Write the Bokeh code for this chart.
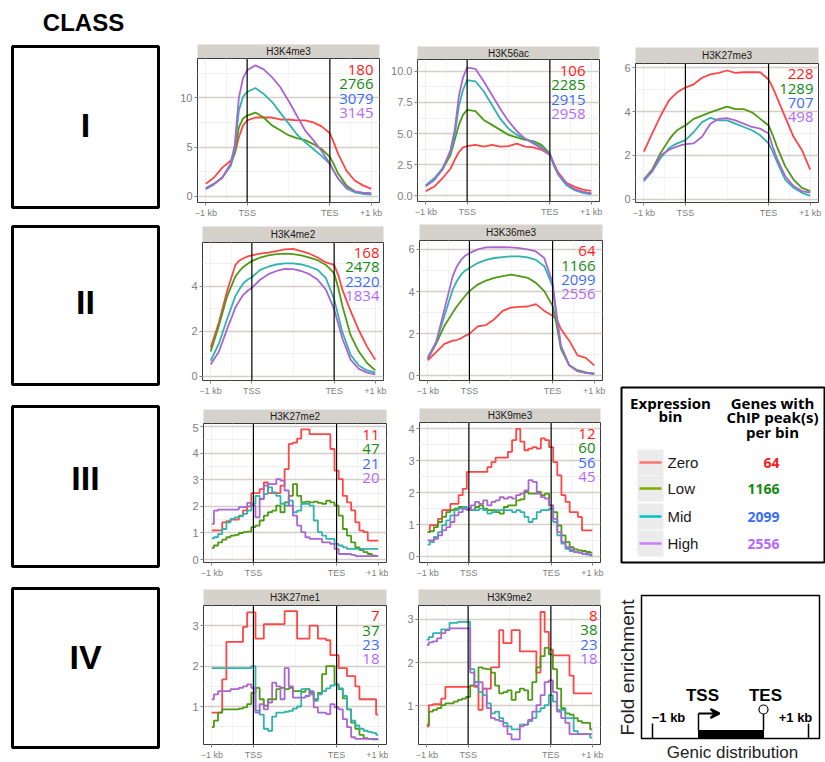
from bokeh.plotting import figure
from bokeh.models import Range1d, FixedTicker, Span, Label, Arrow, VeeHead
from bokeh.layouts import row, column
from bokeh.embed import file_html
from bokeh.resources import INLINE
from bokeh.core.properties import value
import math

# ---------------- data ----------------
BINS = ["Zero", "Low", "Mid", "High"]
LINE_COLORS = ["#ff4646", "#4e9a14", "#30b3ae", "#aa66d0"]
NUM_COLORS = ["#ff1a1a", "#148a14", "#3a6cff", "#b568ff"]
LEGEND_COLORS = ["#f8766d", "#7cae00", "#00bfc4", "#c77cff"]
X_TICKS = [0, 1, 3, 4]
X_TICK_LABELS = ["\u22121 kb", "TSS", "TES", "+1 kb"]
CLASSES = ["I", "II", "III", "IV"]

X_SMOOTH = [0, 0.2, 0.4, 0.6, 0.7, 0.8, 0.9, 1.0, 1.2, 1.4, 1.6, 1.8, 2.0, 2.2, 2.4, 2.6, 2.8, 3.0, 3.1, 3.2, 3.4, 3.6, 3.8, 4.0]
X_STEP = [0.0, 0.1, 0.2, 0.3, 0.4, 0.5, 0.6, 0.7, 0.8, 0.9, 1.0, 1.1, 1.2, 1.3, 1.4, 1.5, 1.6, 1.7, 1.8, 1.9, 2.0,
          2.1, 2.2, 2.3, 2.4, 2.5, 2.6, 2.7, 2.8, 2.9, 3.0, 3.1, 3.2, 3.3, 3.4, 3.5, 3.6, 3.7, 3.8, 3.9, 4.0]

# Class I
H3K4ME3_ZERO = [1.25, 1.9, 2.9, 3.6, 4.3, 6.0, 7.2, 7.7, 8.0, 8.0, 8.0, 7.8, 7.8, 7.7, 7.7, 7.5, 7.1, 6.4, 5.4, 4.3, 2.6, 1.6, 1.1, 0.75]
H3K4ME3_LOW = [0.8, 1.25, 1.9, 3.1, 4.4, 7.0, 7.9, 8.2, 8.5, 8.0, 7.2, 6.7, 6.2, 5.9, 5.7, 5.3, 4.8, 4.0, 3.2, 2.3, 1.1, 0.5, 0.3, 0.24]
H3K4ME3_MID = [0.7, 1.2, 1.9, 3.1, 4.8, 8.7, 10.1, 10.6, 11.0, 10.4, 9.6, 8.5, 7.4, 6.3, 5.5, 4.8, 4.1, 3.3, 2.5, 1.8, 0.8, 0.4, 0.24, 0.17]
H3K4ME3_HIGH = [0.8, 1.25, 1.9, 3.3, 5.2, 10.0, 12.0, 12.8, 13.3, 12.9, 12.1, 11.1, 9.7, 8.2, 6.7, 5.7, 4.6, 3.3, 2.5, 1.8, 0.9, 0.5, 0.37, 0.3]
H3K4ME3_N = [180, 2766, 3079, 3145]

H3K56AC_ZERO = [0.38, 0.73, 1.4, 2.2, 2.9, 3.5, 3.9, 4.0, 4.1, 3.95, 4.1, 3.95, 4.0, 4.2, 3.95, 3.9, 3.7, 3.3, 2.5, 1.9, 1.05, 0.73, 0.5, 0.4]
H3K56AC_LOW = [0.8, 1.3, 2.1, 3.3, 4.5, 5.7, 6.5, 6.9, 6.8, 6.1, 5.7, 5.3, 4.9, 4.7, 4.5, 4.4, 4.1, 3.4, 2.55, 1.8, 0.94, 0.5, 0.3, 0.2]
H3K56AC_MID = [0.86, 1.4, 2.2, 3.5, 4.9, 7.2, 8.5, 9.3, 9.2, 8.4, 7.3, 6.2, 5.4, 4.9, 4.6, 4.3, 3.9, 3.3, 2.4, 1.7, 0.86, 0.46, 0.24, 0.13]
H3K56AC_HIGH = [0.8, 1.26, 2.1, 3.7, 5.3, 8.0, 9.5, 10.3, 10.2, 9.2, 8.1, 7.0, 6.0, 5.2, 4.6, 4.2, 3.8, 3.3, 2.5, 1.8, 1.0, 0.54, 0.32, 0.2]
H3K56AC_N = [106, 2285, 2915, 2958]

H3K27ME3_ZERO = [2.17, 3.0, 3.8, 4.5, 4.7, 4.87, 5.0, 5.1, 5.25, 5.55, 5.7, 5.77, 5.88, 5.77, 5.8, 5.8, 5.8, 5.47, 5.1, 4.65, 3.75, 2.85, 2.25, 1.35]
H3K27ME3_LOW = [0.9, 1.35, 2.1, 2.7, 2.95, 3.15, 3.27, 3.37, 3.67, 3.82, 3.97, 4.1, 4.23, 4.12, 4.12, 3.97, 3.67, 3.37, 2.92, 2.4, 1.5, 0.9, 0.52, 0.37]
H3K27ME3_MID = [0.82, 1.27, 1.87, 2.32, 2.45, 2.55, 2.62, 2.7, 3.07, 3.52, 3.72, 3.6, 3.6, 3.45, 3.3, 3.15, 2.92, 2.55, 2.17, 1.72, 0.9, 0.52, 0.3, 0.15]
H3K27ME3_HIGH = [0.9, 1.27, 2.0, 2.25, 2.33, 2.4, 2.47, 2.52, 2.55, 2.85, 3.45, 3.67, 3.7, 3.6, 3.45, 3.3, 3.22, 3.0, 2.4, 1.87, 1.05, 0.6, 0.37, 0.3]
H3K27ME3_N = [228, 1289, 707, 498]

# Class II
H3K4ME2_ZERO = [1.27, 2.4, 3.8, 4.95, 5.15, 5.25, 5.33, 5.38, 5.45, 5.5, 5.57, 5.64, 5.67, 5.57, 5.45, 5.28, 5.06, 4.95, 4.5, 3.85, 2.9, 2.04, 1.31, 0.73]
H3K4ME2_LOW = [1.09, 2.25, 3.56, 4.44, 4.68, 4.87, 5.0, 5.12, 5.28, 5.38, 5.43, 5.45, 5.43, 5.38, 5.28, 5.16, 4.95, 4.58, 3.93, 3.13, 1.82, 1.09, 0.58, 0.25]
H3K4ME2_MID = [0.68, 1.45, 2.55, 3.56, 3.88, 4.15, 4.3, 4.4, 4.73, 4.87, 4.97, 5.02, 5.02, 4.97, 4.87, 4.73, 4.36, 3.42, 2.69, 1.96, 0.95, 0.47, 0.25, 0.15]
H3K4ME2_HIGH = [0.51, 1.09, 2.1, 3.05, 3.36, 3.64, 3.8, 3.93, 4.29, 4.54, 4.68, 4.77, 4.76, 4.68, 4.54, 4.29, 3.85, 2.98, 2.33, 1.67, 0.73, 0.32, 0.15, 0.07]
H3K4ME2_N = [168, 2478, 2320, 1834]

H3K36ME3_ZERO = [0.74, 1.13, 1.52, 1.67, 1.7, 1.78, 1.9, 1.99, 2.35, 2.41, 2.69, 3.08, 3.24, 3.27, 3.29, 3.4, 3.08, 2.85, 2.69, 2.22, 1.67, 0.97, 0.85, 0.5]
H3K36ME3_LOW = [0.81, 1.52, 2.38, 3.0, 3.3, 3.55, 3.8, 4.02, 4.33, 4.52, 4.65, 4.73, 4.8, 4.73, 4.65, 4.41, 4.02, 3.32, 2.38, 1.28, 0.5, 0.27, 0.16, 0.11]
H3K36ME3_MID = [0.89, 1.6, 2.85, 4.1, 4.5, 4.8, 5.0, 5.12, 5.35, 5.5, 5.59, 5.63, 5.67, 5.67, 5.62, 5.5, 5.2, 4.26, 2.69, 1.36, 0.5, 0.22, 0.14, 0.09]
H3K36ME3_HIGH = [0.81, 1.6, 3.16, 4.73, 5.2, 5.5, 5.7, 5.82, 6.0, 6.09, 6.1, 6.1, 6.09, 6.06, 6.0, 5.9, 5.59, 4.41, 2.85, 1.44, 0.5, 0.22, 0.14, 0.1]
H3K36ME3_N = [64, 1166, 2099, 2556]

# Class III
H3K27ME2_ZERO = [1.1, 1.1, 1.1, 1.4, 1.45, 1.5, 1.5, 1.65, 1.85, 2.0, 2.5, 2.5, 2.65, 2.9, 2.5, 2.5, 2.5, 2.78, 3.4, 4.35, 4.4,
                 4.55, 4.9, 4.9, 4.72, 4.72, 4.72, 4.72, 4.72, 4.16, 3.35, 3.03, 2.4, 2.15, 1.85, 1.4, 1.09, 1.03, 0.71, 0.71, 0.71]
H3K27ME2_LOW = [0.44, 0.53, 0.65, 0.75, 0.84, 0.9, 0.93, 1.0, 1.03, 1.05, 1.22, 1.28, 1.47, 1.65, 1.78, 1.84, 2.03, 1.78, 2.15, 2.4, 2.84,
                2.4, 2.15, 2.18, 2.15, 2.18, 2.13, 2.1, 2.22, 2.15, 2.03, 1.65, 1.15, 0.9, 0.65, 0.46, 0.36, 0.28, 0.21, 0.15, 0.13]
H3K27ME2_MID = [0.8, 0.84, 0.96, 1.15, 1.4, 1.53, 1.59, 1.63, 1.72, 1.84, 2.1, 2.4, 2.28, 2.47, 2.72, 2.53, 2.4, 2.1, 2.03, 2.22, 1.78,
                1.84, 2.1, 2.1, 2.03, 1.47, 1.03, 0.9, 0.78, 0.78, 0.59, 0.53, 0.46, 0.4, 0.4, 0.4, 0.4, 0.4, 0.4, 0.4, 0.4]
H3K27ME2_HIGH = [1.34, 1.84, 1.88, 1.88, 1.88, 1.88, 1.88, 1.97, 1.97, 2.13, 2.03, 1.59, 2.28, 2.78, 2.84, 2.84, 3.03, 2.97, 2.6, 2.03, 1.65,
                 1.28, 1.03, 0.84, 0.78, 0.78, 0.78, 0.65, 0.65, 0.59, 0.4, 0.21, 0.21, 0.21, 0.18, 0.13, 0.13, 0.13, 0.13, 0.13, 0.13]
H3K27ME2_N = [11, 47, 21, 20]

H3K9ME3_ZERO = [0.76, 0.98, 0.98, 1.18, 1.45, 1.45, 1.65, 1.65, 1.92, 2.12, 2.65, 2.65, 2.65, 2.65, 2.65, 2.8, 2.96, 3.1, 3.1, 3.1, 3.28,
                3.65, 4.0, 3.6, 3.33, 3.38, 3.43, 3.38, 3.7, 3.65, 3.43, 2.96, 2.54, 1.92, 1.71, 1.39, 1.39, 1.24, 0.82, 0.82, 0.82]
H3K9ME3_LOW = [0.76, 0.79, 0.92, 1.08, 1.24, 1.39, 1.45, 1.5, 1.55, 1.5, 1.5, 1.45, 1.55, 1.6, 1.5, 1.45, 1.45, 1.39, 1.34, 1.55, 1.6,
               1.6, 1.76, 1.79, 2.02, 1.97, 1.97, 2.02, 1.92, 1.97, 1.6, 1.39, 0.97, 0.66, 0.45, 0.29, 0.22, 0.19, 0.17, 0.14, 0.12]
H3K9ME3_MID = [0.37, 0.45, 0.61, 0.76, 0.98, 1.13, 1.29, 1.45, 1.5, 1.55, 1.45, 1.45, 1.45, 1.5, 1.45, 1.34, 1.39, 1.45, 1.45, 1.45, 1.45,
               1.39, 1.45, 1.39, 1.24, 1.08, 1.18, 1.39, 1.45, 1.45, 1.5, 1.08, 0.66, 0.4, 0.24, 0.17, 0.14, 0.12, 0.08, 0.06, 0.03]
H3K9ME3_HIGH = [0.5, 0.5, 0.55, 0.66, 0.82, 0.92, 1.08, 1.29, 1.39, 1.5, 1.45, 1.6, 1.71, 1.65, 1.76, 1.6, 1.71, 1.76, 1.86, 1.81, 1.86,
                1.81, 1.92, 1.97, 2.07, 2.39, 2.34, 1.97, 1.86, 1.81, 1.6, 1.18, 0.76, 0.45, 0.29, 0.22, 0.14, 0.12, 0.09, 0.07, 0.05]
H3K9ME3_N = [12, 60, 56, 45]

# Class IV
H3K27ME1_ZERO = [0.85, 0.85, 0.85, 1.67, 2.6, 2.6, 2.6, 2.6, 2.97, 3.33, 3.33, 2.68, 2.68, 3.04, 3.04, 3.04, 3.04, 3.04, 3.36, 3.36, 3.36,
                 2.68, 2.68, 2.68, 3.0, 3.0, 2.68, 2.68, 2.64, 2.27, 2.27, 1.95, 1.95, 1.75, 1.75, 1.5, 1.18, 1.18, 1.18, 1.18, 0.8]
H3K27ME1_LOW = [0.49, 0.65, 0.85, 0.93, 0.93, 0.93, 0.93, 0.95, 0.98, 1.06, 1.34, 1.46, 1.18, 1.02, 1.18, 1.18, 1.43, 1.46, 1.43, 1.46, 1.38,
                1.38, 1.36, 1.43, 1.34, 1.18, 1.34, 1.8, 2.0, 2.0, 1.55, 1.43, 1.2, 0.93, 0.6, 0.45, 0.3, 0.22, 0.2, 0.19, 0.19]
H3K27ME1_MID = [1.95, 1.95, 1.95, 1.95, 1.95, 1.95, 1.95, 1.95, 1.95, 1.95, 2.0, 0.9, 0.8, 0.45, 0.4, 0.75, 0.85, 0.85, 0.87, 0.89, 0.95,
                1.0, 1.43, 1.43, 1.3, 1.14, 1.3, 1.38, 1.45, 1.52, 1.55, 1.45, 1.26, 0.93, 0.65, 0.53, 0.45, 0.4, 0.37, 0.35, 0.3]
H3K27ME1_HIGH = [1.18, 1.3, 1.38, 1.38, 1.38, 1.43, 1.43, 1.46, 1.5, 1.55, 1.46, 0.85, 1.06, 0.93, 1.1, 1.59, 1.5, 1.18, 1.95, 1.5, 1.22,
                 1.22, 1.22, 1.26, 1.38, 0.98, 0.85, 0.85, 0.81, 1.06, 0.98, 0.93, 0.69, 0.49, 0.24, 0.2, 0.2, 0.2, 0.2, 0.2, 0.2]
H3K27ME1_N = [7, 37, 23, 18]

H3K9ME2_ZERO = [0.53, 1.02, 1.04, 1.04, 1.17, 1.44, 1.44, 1.44, 1.44, 1.44, 1.44, 1.47, 1.44, 0.91, 1.4, 1.4, 1.89, 1.89, 2.75, 2.45, 2.45,
                2.75, 2.75, 2.26, 2.26, 2.26, 2.26, 1.77, 3.17, 2.71, 2.3, 2.17, 2.17, 2.17, 2.17, 1.7, 1.29, 1.29, 1.29, 1.29, 1.29]
H3K9ME2_LOW = [0.57, 0.87, 0.91, 0.95, 1.02, 1.06, 1.06, 1.1, 1.14, 1.17, 1.21, 1.47, 1.55, 1.89, 1.86, 1.85, 1.77, 1.47, 1.29, 1.32, 1.36,
               1.14, 1.32, 1.4, 1.36, 1.14, 1.55, 1.89, 2.15, 2.34, 2.19, 1.85, 1.4, 0.95, 0.83, 0.8, 0.72, 0.65, 0.61, 0.61, 0.46]
H3K9ME2_MID = [2.53, 2.59, 2.68, 2.68, 2.77, 2.77, 2.92, 2.92, 2.94, 2.94, 2.94, 1.85, 1.55, 1.32, 1.25, 1.06, 0.83, 0.87, 0.72, 0.61, 0.53,
               0.46, 0.46, 0.57, 0.57, 0.65, 0.72, 0.87, 0.95, 1.02, 1.25, 1.1, 0.91, 0.91, 0.72, 0.72, 0.42, 0.35, 0.35, 0.35, 0.27]
H3K9ME2_HIGH = [2.41, 2.47, 2.49, 2.56, 2.68, 2.75, 2.79, 2.79, 2.79, 2.79, 2.79, 1.77, 1.47, 1.55, 1.4, 0.95, 0.72, 0.68, 0.65, 0.53, 0.35,
                0.23, 0.23, 0.53, 0.57, 0.68, 0.87, 1.02, 1.25, 1.55, 1.59, 1.32, 0.87, 0.72, 0.61, 0.35, 0.35, 0.35, 0.35, 0.35, 0.35]
H3K9ME2_N = [8, 38, 23, 18]

# ---------------- styling ----------------
AX_FONT = "Liberation Sans"
NUM_FONT = "Open Sans"
STRIP_FILL = "#d5d1cb"
TICK_GREY = "#808080"


def make_panel(name, xs, series, counts, yr, yticks, ylabels, w, h, bl, br, bt, sh, bb, dx, dy, step):
    # strip (facet header) as its own small figure sharing the panel's borders
    s = figure(width=w, height=bt, x_range=Range1d(0, 1), y_range=Range1d(0, 1),
               x_axis_type=None, y_axis_type=None, output_backend="svg", toolbar_location=None,
               min_border_left=bl, min_border_right=br, min_border_top=bt - sh, min_border_bottom=0)
    s.background_fill_color = STRIP_FILL
    s.border_fill_color = "white"
    s.outline_line_color = None
    s.grid.visible = False
    s.text(x=[0.5], y=[0.5], text=[name], text_align="center", text_baseline="middle",
           text_font=value(AX_FONT), text_font_size="10px", text_color="#1a1a1a")

    ph = h - bt
    p = figure(width=w, height=ph, x_range=Range1d(-0.2, 4.2), y_range=Range1d(yr[0], yr[1]),
               output_backend="svg", toolbar_location=None,
               min_border_left=bl, min_border_right=br, min_border_top=0, min_border_bottom=bb)
    p.background_fill_color = "white"
    p.border_fill_color = "white"
    p.outline_line_color = "#3c3c3c"
    p.outline_line_width = 1

    p.xaxis.ticker = FixedTicker(ticks=X_TICKS)
    p.xaxis.major_label_overrides = {k: v for k, v in zip(X_TICKS, X_TICK_LABELS)}
    p.yaxis.ticker = FixedTicker(ticks=yticks)
    p.yaxis.major_label_overrides = {k: v for k, v in zip(yticks, ylabels)}
    for ax, fs in ((p.xaxis, "9px"), (p.yaxis, "11px")):
        ax.axis_line_color = None
        ax.major_tick_line_color = TICK_GREY
        ax.major_tick_out = 3
        ax.major_tick_in = 0
        ax.minor_tick_line_color = None
        ax.major_label_text_font = AX_FONT
        ax.major_label_text_font_size = fs
        ax.major_label_text_color = TICK_GREY
        ax.major_label_standoff = 2

    d = yticks[1] - yticks[0]
    yminor = [yticks[0] - d / 2] + [(a + b) / 2 for a, b in zip(yticks, yticks[1:])] + [yticks[-1] + d / 2]
    p.ygrid.ticker = FixedTicker(ticks=yticks, minor_ticks=yminor)
    p.ygrid.grid_line_color = "#d4cfc7"
    p.ygrid.grid_line_width = 1.4
    p.ygrid.minor_grid_line_color = "#f0f0f0"
    p.xgrid.ticker = FixedTicker(ticks=X_TICKS, minor_ticks=[0.5, 2, 3.5])
    p.xgrid.grid_line_color = "#eeeeee"
    p.xgrid.minor_grid_line_color = "#f4f4f4"

    for loc in (X_TICKS[1], X_TICKS[2]):
        p.add_layout(Span(location=loc, dimension="height", line_color="black", line_width=1.2))

    for ys, c in zip(series, LINE_COLORS):
        if step:
            p.step(x=xs, y=ys, mode="center", line_color=c, line_width=1.8)
        else:
            p.line(x=xs, y=ys, line_color=c, line_width=1.8)

    fw = w - bl - br
    fh = ph - bb
    yspan = yr[1] - yr[0]
    for i, (n, c) in enumerate(zip(counts, NUM_COLORS)):
        lx = 4.2 - dx / fw * 4.4
        ly = yr[1] - (dy + i * 14.5) / fh * yspan
        p.add_layout(Label(x=lx, y=ly, text=str(n), text_align="right", text_baseline="middle",
                           text_font=NUM_FONT, text_font_size="15px", text_color=c))
    return column(s, p, spacing=0)


colA = column(
    make_panel("H3K4me3", X_SMOOTH, [H3K4ME3_ZERO, H3K4ME3_LOW, H3K4ME3_MID, H3K4ME3_HIGH], H3K4ME3_N,
               (-0.64, 14.0), [0, 5, 10], ["0", "5", "10"], 213, 220, 22, 9, 58, 14, 18, 6, 11, False),
    make_panel("H3K4me2", X_SMOOTH, [H3K4ME2_ZERO, H3K4ME2_LOW, H3K4ME2_MID, H3K4ME2_HIGH], H3K4ME2_N,
               (-0.2, 5.95), [0, 2, 4], ["0", "2", "4"], 213, 178, 27, 5, 22, 16, 15, 4, 11, False),
    make_panel("H3K27me2", X_STEP, [H3K27ME2_ZERO, H3K27ME2_LOW, H3K27ME2_MID, H3K27ME2_HIGH], H3K27ME2_N,
               (-0.11, 5.12), [0, 1, 2, 3, 4, 5], ["0", "1", "2", "3", "4", "5"], 213, 182, 28, 2, 25, 14, 18, 7, 11, True),
    make_panel("H3K27me1", X_STEP, [H3K27ME1_ZERO, H3K27ME1_LOW, H3K27ME1_MID, H3K27ME1_HIGH], H3K27ME1_N,
               (0.06, 3.5), [1, 2, 3], ["1", "2", "3"], 213, 182, 28, 2, 25, 16, 16, 7, 11, True),
    spacing=0)

colB = column(
    make_panel("H3K56ac", X_SMOOTH, [H3K56AC_ZERO, H3K56AC_LOW, H3K56AC_MID, H3K56AC_HIGH], H3K56AC_N,
               (-0.45, 10.95), [0, 2.5, 5, 7.5, 10], ["0.0", "2.5", "5.0", "7.5", "10.0"], 224, 220, 29, 13, 59, 13, 19, 14, 11, False),
    make_panel("H3K36me3", X_SMOOTH, [H3K36ME3_ZERO, H3K36ME3_LOW, H3K36ME3_MID, H3K36ME3_HIGH], H3K36ME3_N,
               (-0.22, 6.42), [0, 2, 4, 6], ["0", "2", "4", "6"], 224, 178, 31, 10, 20, 16, 16, 7, 11, False),
    make_panel("H3K9me3", X_STEP, [H3K9ME3_ZERO, H3K9ME3_LOW, H3K9ME3_MID, H3K9ME3_HIGH], H3K9ME3_N,
               (-0.19, 4.2), [0, 1, 2, 3, 4], ["0", "1", "2", "3", "4"], 224, 182, 31, 12, 24, 14, 18, 5, 11, True),
    make_panel("H3K9me2", X_STEP, [H3K9ME2_ZERO, H3K9ME2_LOW, H3K9ME2_MID, H3K9ME2_HIGH], H3K9ME2_N,
               (0.11, 3.32), [1, 2, 3], ["1", "2", "3"], 224, 182, 30, 12, 25, 16, 15, 3, 11, True),
    spacing=0)

p27me3 = make_panel("H3K27me3", X_SMOOTH, [H3K27ME3_ZERO, H3K27ME3_LOW, H3K27ME3_MID, H3K27ME3_HIGH], H3K27ME3_N,
                    (-0.15, 6.2), [0, 2, 4, 6], ["0", "2", "4", "6"], 213, 220, 23, 7, 63, 16, 16, 5, 11, False)


def blank(w, h):
    f = figure(width=w, height=h, x_range=Range1d(0, w), y_range=Range1d(h, 0),
               x_axis_type=None, y_axis_type=None, output_backend="svg", toolbar_location=None,
               min_border=0)
    f.outline_line_color = None
    f.grid.visible = False
    f.background_fill_color = "white"
    f.border_fill_color = "white"
    return f


# legend panel
lg = blank(213, 360)
lg.quad(left=9, right=212, top=167, bottom=342, fill_color=None, line_color="black", line_width=2)
lg.text(x=[58, 58, 160, 160, 160], y=[182, 195, 182, 196.5, 211],
        text=["Expression", "bin", "Genes with", "ChIP peak(s)", "per bin"],
        text_align="center", text_baseline="middle", text_font=value(NUM_FONT),
        text_font_style="bold", text_font_size="15px", text_color="black")
KEY_Y = [242, 268, 296, 323]
lg.rect(x=38, y=KEY_Y, width=26, height=26, fill_color="#ebebeb", line_color=None)
lg.segment(x0=27, x1=49, y0=KEY_Y, y1=KEY_Y, line_color=LEGEND_COLORS, line_width=2.5)
lg.text(x=55, y=KEY_Y, text=BINS, text_align="left", text_baseline="middle",
        text_font=value(AX_FONT), text_font_size="15px", text_color="#1a1a1a")
lg.text(x=167, y=KEY_Y, text=[str(n) for n in H3K36ME3_N], text_align="right", text_baseline="middle",
        text_font=value(NUM_FONT), text_font_style="bold", text_font_size="14px", text_color=NUM_COLORS)

# schematic panel
sc = blank(213, 182)
sc.quad(left=29, right=207, top=15, bottom=158, fill_color=None, line_color="black", line_width=1.5)
sc.segment(x0=[40, 196], x1=[40, 196], y0=[143, 143], y1=[158, 158], line_color="black", line_width=1.5)
sc.quad(left=86, right=151, top=150, bottom=158, fill_color="black", line_color="black")
sc.segment(x0=[86, 151], x1=[86, 151], y0=[133, 133], y1=[150, 150], line_color="black", line_width=1.5)
sc.add_layout(Arrow(end=VeeHead(size=9, line_width=2, line_color="black"), x_start=86, y_start=133,
                    x_end=107, y_end=133, line_width=2, line_color="black"))
sc.scatter(x=[151], y=[129], size=9, marker="circle", fill_color="white", line_color="black", line_width=1.2)
sc.text(x=[90, 153], y=[115, 115], text=["TSS", "TES"], text_align="center", text_baseline="middle",
        text_font=value(AX_FONT), text_font_style="bold", text_font_size="17px", text_color="black")
sc.text(x=[56, 183], y=[137, 137], text=["\u22121 kb", "+1 kb"], text_align="center", text_baseline="middle",
        text_font=value(AX_FONT), text_font_style="bold", text_font_size="13px", text_color="black")
sc.text(x=[15], y=[87], text=["Fold enrichment"], angle=math.pi / 2, text_align="center", text_baseline="middle",
        text_font=value(AX_FONT), text_font_size="19px", text_color="#222222")
sc.text(x=[120], y=[172], text=["Genic distribution"], text_align="center", text_baseline="middle",
        text_font=value(AX_FONT), text_font_size="17px", text_color="#222222")

colC = column(p27me3, column(lg), column(sc), spacing=0)

# class column
cl = blank(175, 762)
cl.text(x=[83], y=[22], text=["CLASS"], text_align="center", text_baseline="middle",
        text_font=value(AX_FONT), text_font_style="bold", text_font_size="24px", text_color="black")
cl.quad(left=12, right=158, top=[46, 226, 406, 588], bottom=[207, 384, 566, 747],
        fill_color=None, line_color="black", line_width=3)
cl.text(x=[85, 85, 85, 85], y=[124, 301, 477, 656], text=CLASSES, text_align="center", text_baseline="middle",
        text_font=value(AX_FONT), text_font_style="bold", text_font_size="34px", text_color="black")

layout = row(cl, colA, colB, colC, spacing=0)

open("out.html", "w").write(file_html(layout, INLINE))
